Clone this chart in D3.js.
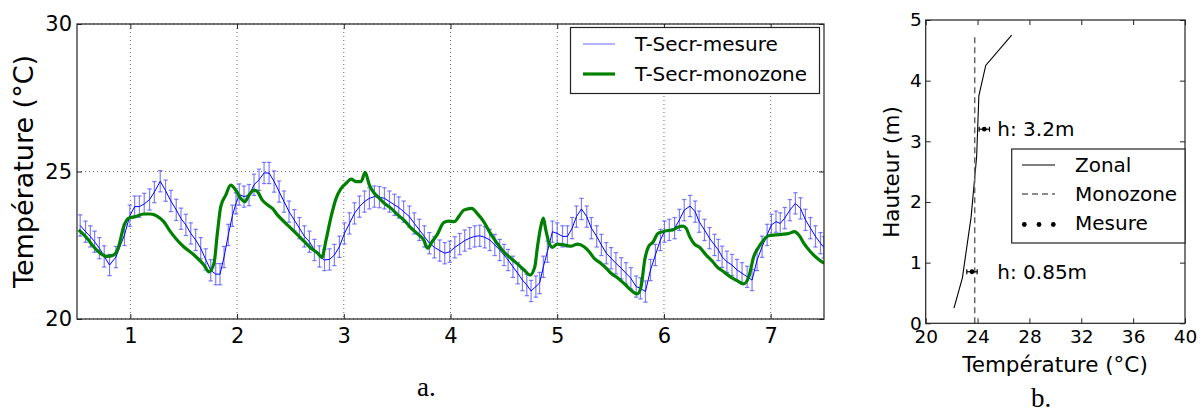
<!DOCTYPE html>
<html><head><meta charset="utf-8">
<script src="https://cdn.jsdelivr.net/npm/d3@7"></script>
<style>
body{margin:0;background:#fff}
svg{display:block}
text{fill:#000}
</style></head><body>
<svg id="c" width="1204" height="412" font-family="DejaVu Sans, sans-serif"></svg>
<script>
// ---- Panel a: time series ----
const xTicksA = [1,2,3,4,5,6,7];
const yTicksA = [20,25,30];
const mesureTime = [0.53,0.58,0.625,0.665,0.71,0.755,0.805,0.865,0.945,0.995,1.04,1.085,1.13,1.18,1.225,1.28,1.33,1.38,1.43,1.475,
1.52,1.566,1.612,1.659,1.706,1.753,1.8,1.84,1.878,1.918,1.956,1.99,2.02,2.065,2.112,2.159,2.206,2.253,2.3,2.347,2.394,2.44,2.487,
2.537,2.584,2.631,2.678,2.725,2.772,2.819,2.866,2.912,2.959,3.006,3.053,3.1,3.147,3.194,3.24,3.287,3.334,3.381,3.428,3.475,
3.515,3.561,3.615,3.661,3.708,3.755,3.802,3.849,3.899,3.946,3.993,4.04,4.086,4.133,4.18,4.227,4.274,4.321,4.368,4.415,4.461,
4.502,4.54,4.585,4.63,4.674,4.715,4.755,4.8,4.835,4.87,4.908,4.955,5.0,5.05,5.096,5.14,5.18,5.227,5.277,5.32,5.37,5.414,5.46,
5.505,5.55,5.6,5.645,5.69,5.74,5.78,5.827,5.874,5.92,5.967,6.005,6.05,6.1,6.145,6.19,6.245,6.293,6.33,6.38,6.427,6.474,6.51,
6.545,6.59,6.638,6.685,6.732,6.78,6.826,6.873,6.92,6.967,7.007,7.05,7.09,7.132,7.18,7.232,7.28,7.326,7.373,7.42,7.467,7.498];
const mesureVal = [23.17,22.96,22.8,22.62,22.4,22.12,21.83,22.1,22.85,23.5,23.81,23.81,23.9,24.05,24.3,24.67,24.35,24.0,23.7,23.4,
23.19,22.9,22.68,22.4,22.02,21.65,21.52,21.52,22.1,22.85,23.5,23.92,24.22,24.15,24.2,24.55,24.72,24.95,24.95,24.66,24.32,23.98,23.64,
23.35,23.08,22.8,22.62,22.34,22.12,22.0,22.02,22.17,22.45,22.9,23.24,23.58,23.81,23.98,24.09,24.15,24.13,24.09,23.98,23.87,
23.78,23.64,23.47,23.24,23.02,22.8,22.57,22.43,22.32,22.23,22.28,22.43,22.54,22.66,22.74,22.8,22.82,22.77,22.68,22.51,22.34,
22.17,22.0,21.77,21.55,21.32,21.15,20.95,21.1,21.22,21.77,22.28,22.96,22.9,22.8,22.8,23.08,23.47,23.73,23.47,23.08,22.8,22.51,22.23,
22.06,21.89,21.72,21.55,21.38,21.1,21.04,20.93,21.66,22.17,22.68,22.96,23.02,23.08,23.36,23.69,23.83,23.64,23.3,23.02,22.74,22.51,22.34,
22.11,21.94,21.83,21.66,21.55,21.43,21.32,22.0,22.45,22.85,23.19,23.3,23.24,23.42,23.69,23.92,23.75,23.36,23.08,22.8,22.57,22.43];
const mesureErr = 0.36;
const monoTime = [0.516,0.594,0.656,0.719,0.781,0.844,0.89,0.9375,0.984,1.047,1.125,1.1875,1.25,1.3125,1.375,1.4375,1.5,
1.597,1.69,1.737,1.784,1.815,1.847,1.894,1.94,1.987,2.034,2.072,2.112,2.159,2.19,2.237,2.284,2.331,2.378,2.44,2.503,
2.568,2.631,2.693,2.756,2.794,2.834,2.881,2.928,2.975,3.022,3.069,3.115,3.162,3.2,3.24,3.287,3.334,3.381,3.443,3.506,
3.561,3.624,3.686,3.749,3.786,3.827,3.874,3.936,3.983,4.036,4.077,4.124,4.2,4.249,4.311,4.374,4.436,4.499,
4.565,4.627,4.69,4.746,4.79,4.815,4.846,4.87,4.893,4.924,4.955,5.0,5.065,5.127,5.19,5.252,5.3,5.346,5.408,5.47,
5.505,5.57,5.63,5.69,5.75,5.786,5.82,5.855,5.9,5.943,5.99,6.036,6.083,6.13,6.177,6.208,6.24,6.286,6.333,6.395,6.458,
6.498,6.56,6.623,6.685,6.748,6.795,6.842,6.89,6.935,6.982,7.045,7.107,7.17,7.223,7.264,7.31,7.373,7.436,7.5];
const monoVal = [23.02,22.74,22.45,22.23,22.12,22.17,22.45,23.13,23.42,23.47,23.56,23.56,23.49,23.3,22.96,22.68,22.45,
22.17,21.83,21.6,21.89,22.9,23.81,24.2,24.54,24.37,24.09,23.98,24.2,24.37,24.32,24.03,23.87,23.75,23.53,23.3,23.08,
22.85,22.62,22.4,22.23,22.09,22.68,23.47,24.09,24.43,24.6,24.74,24.66,24.66,24.97,24.54,24.26,24.09,23.92,23.75,23.53,
23.36,23.11,22.9,22.68,22.4,22.62,22.85,23.27,23.32,23.3,23.47,23.69,23.75,23.58,23.3,22.9,22.57,22.28,
22.06,21.87,21.66,21.49,21.77,22.45,23.13,23.42,23.02,22.57,22.43,22.54,22.51,22.47,22.54,22.45,22.28,22.06,21.89,21.68,
21.55,21.38,21.19,20.98,20.85,21.1,22.0,22.45,22.62,22.9,22.96,23.0,23.02,23.11,23.15,23.08,22.8,22.54,22.43,22.17,21.94,
21.77,21.6,21.43,21.3,21.19,21.43,22.12,22.45,22.68,22.82,22.85,22.87,22.9,22.96,22.85,22.57,22.28,22.06,21.89];
const legendA = ["T-Secr-mesure","T-Secr-monozone"];

// ---- Panel b: vertical profile ----
const xTicksB = [20,24,28,32,36,40];
const yTicksB = [0,1,2,3,4,5];
const zonalH = [0.25,0.75,1.75,2.75,3.75,4.25,4.75];
const zonalT = [22.18,22.83,23.5,23.93,24.1,24.63,26.63];
const monozoneH = [0,4.75];
const monozoneT = [23.78,23.78];
const measH = [3.2,0.85];
const measT = [24.52,23.57];
const measErr = 0.4;
const measLabels = ["h: 3.2m","h: 0.85m"];
const legendB = ["Zonal","Monozone","Mesure"];

const svg = d3.select("#c");
const spine = "#222";
const ebColor = "rgba(60,60,255,0.65)";

// ===== Panel a =====
const xA = d3.scaleLinear().domain([0.5,7.5]).range([77,824]);
const yA = d3.scaleLinear().domain([20,30]).range([319,24]);
const gA = svg.append("g");
gA.append("clipPath").attr("id","clipA").append("rect")
  .attr("x",77).attr("y",24).attr("width",747).attr("height",295);
gA.selectAll("line.gx").data(xTicksA).join("line")
  .attr("x1",d=>xA(d)).attr("x2",d=>xA(d)).attr("y1",yA(30)).attr("y2",yA(20))
  .attr("stroke","#444").attr("stroke-width",0.8).attr("stroke-dasharray","1,3");
gA.selectAll("line.gy").data(yTicksA).join("line")
  .attr("y1",d=>yA(d)).attr("y2",d=>yA(d)).attr("x1",xA(0.5)).attr("x2",xA(7.5))
  .attr("stroke","#444").attr("stroke-width",0.8).attr("stroke-dasharray","1,3");

const plotA = gA.append("g").attr("clip-path","url(#clipA)");
const pts = mesureTime.map((t,i)=>({t, v:mesureVal[i]}));
const eb = plotA.append("g").attr("stroke",ebColor).attr("stroke-width",1.2);
eb.selectAll("line.v").data(pts).join("line")
  .attr("x1",d=>xA(d.t)).attr("x2",d=>xA(d.t))
  .attr("y1",d=>yA(d.v-mesureErr)).attr("y2",d=>yA(d.v+mesureErr));
eb.selectAll("line.c1").data(pts).join("line")
  .attr("x1",d=>xA(d.t)-2.2).attr("x2",d=>xA(d.t)+2.2)
  .attr("y1",d=>yA(d.v+mesureErr)).attr("y2",d=>yA(d.v+mesureErr));
eb.selectAll("line.c2").data(pts).join("line")
  .attr("x1",d=>xA(d.t)-2.2).attr("x2",d=>xA(d.t)+2.2)
  .attr("y1",d=>yA(d.v-mesureErr)).attr("y2",d=>yA(d.v-mesureErr));
plotA.append("path").datum(pts)
  .attr("d",d3.line().x(d=>xA(d.t)).y(d=>yA(d.v)))
  .attr("fill","none").attr("stroke","#0000ff").attr("stroke-width",1);
const mono = monoTime.map((t,i)=>({t, v:monoVal[i]}));
plotA.append("path").datum(mono)
  .attr("d",d3.line().x(d=>xA(d.t)).y(d=>yA(d.v)).curve(d3.curveMonotoneX))
  .attr("fill","none").attr("stroke","#008000").attr("stroke-width",3.2)
  .attr("stroke-linejoin","round");

function styleAxis(g, fs){
  g.select(".domain").remove();
  g.attr("font-family","DejaVu Sans, sans-serif");
  g.selectAll(".tick line").attr("stroke",spine);
  g.selectAll(".tick text").attr("font-size",fs).attr("fill","#000");
}
gA.append("g").attr("transform","translate(0,319)")
  .call(d3.axisBottom(xA).tickValues(xTicksA).tickSize(-5).tickPadding(9).tickFormat(d3.format("d")))
  .call(g=>styleAxis(g,"21px"));
gA.append("g").attr("transform","translate(0,24)")
  .call(d3.axisTop(xA).tickValues(xTicksA).tickSize(-5).tickFormat(""))
  .call(g=>styleAxis(g,"21px"));
gA.append("g").attr("transform","translate(77,0)")
  .call(d3.axisLeft(yA).tickValues(yTicksA).tickSize(-5).tickPadding(5).tickFormat(d3.format("d")))
  .call(g=>styleAxis(g,"21px"));
gA.append("g").attr("transform","translate(824,0)")
  .call(d3.axisRight(yA).tickValues(yTicksA).tickSize(-5).tickFormat(""))
  .call(g=>styleAxis(g,"21px"));
gA.append("rect").attr("x",77).attr("y",24).attr("width",747).attr("height",295)
  .attr("fill","none").attr("stroke",spine).attr("stroke-width",1.2);
gA.append("text").attr("transform","translate(33,171.5) rotate(-90)")
  .attr("text-anchor","middle").attr("font-size","27px").text("Température (°C)");
const lgA = gA.append("g");
lgA.append("rect").attr("x",570.5).attr("y",27.5).attr("width",249).attr("height",66)
  .attr("fill","#fff").attr("stroke",spine).attr("stroke-width",1.2);
const lgAy = [44,74];
lgA.append("line").attr("x1",583).attr("x2",615).attr("y1",lgAy[0]).attr("y2",lgAy[0])
  .attr("stroke",ebColor).attr("stroke-width",1.2);
lgA.append("line").attr("x1",583).attr("x2",615).attr("y1",lgAy[1]).attr("y2",lgAy[1])
  .attr("stroke","#008000").attr("stroke-width",3.2);
lgA.selectAll("text").data(legendA).join("text")
  .attr("x",635).attr("y",(d,i)=>lgAy[i]).attr("dy","0.36em").attr("font-size","20px").text(d=>d);
svg.append("text").attr("x",417).attr("y",396)
  .style("font-family","'Liberation Serif', 'DejaVu Serif', serif")
  .attr("font-size","27px").text("a.");

// ===== Panel b =====
const xB = d3.scaleLinear().domain([20,40]).range([925.7,1185]);
const yB = d3.scaleLinear().domain([0,5]).range([323.3,20]);
const gB = svg.append("g");
gB.append("g").attr("transform","translate(0,323.3)")
  .call(d3.axisBottom(xB).tickValues(xTicksB).tickSize(-5).tickPadding(7).tickFormat(d3.format("d")))
  .call(g=>styleAxis(g,"18.5px"));
gB.append("g").attr("transform","translate(0,20)")
  .call(d3.axisTop(xB).tickValues(xTicksB).tickSize(-5).tickFormat(""))
  .call(g=>styleAxis(g,"18.5px"));
gB.append("g").attr("transform","translate(925.7,0)")
  .call(d3.axisLeft(yB).tickValues(yTicksB).tickSize(-5).tickPadding(4).tickFormat(d3.format("d")))
  .call(g=>styleAxis(g,"18.5px"));
gB.append("g").attr("transform","translate(1185,0)")
  .call(d3.axisRight(yB).tickValues(yTicksB).tickSize(-5).tickFormat(""))
  .call(g=>styleAxis(g,"18.5px"));

const zon = zonalH.map((h,i)=>({h, t:zonalT[i]}));
gB.append("path").datum(zon)
  .attr("d",d3.line().x(d=>xB(d.t)).y(d=>yB(d.h)))
  .attr("fill","none").attr("stroke","#000").attr("stroke-width",1.1);
const mz = monozoneH.map((h,i)=>({h, t:monozoneT[i]}));
gB.append("path").datum(mz)
  .attr("d",d3.line().x(d=>xB(d.t)).y(d=>yB(d.h)))
  .attr("fill","none").attr("stroke","#666").attr("stroke-width",1.5).attr("stroke-dasharray","6,4");
const ms = measH.map((h,i)=>({h, t:measT[i]}));
const mg = gB.append("g").attr("stroke","#000").attr("stroke-width",1.2);
mg.selectAll("line.e").data(ms).join("line")
  .attr("x1",d=>xB(d.t-measErr)).attr("x2",d=>xB(d.t+measErr)).attr("y1",d=>yB(d.h)).attr("y2",d=>yB(d.h));
mg.selectAll("line.l").data(ms).join("line")
  .attr("x1",d=>xB(d.t-measErr)).attr("x2",d=>xB(d.t-measErr)).attr("y1",d=>yB(d.h)-2.5).attr("y2",d=>yB(d.h)+2.5);
mg.selectAll("line.r").data(ms).join("line")
  .attr("x1",d=>xB(d.t+measErr)).attr("x2",d=>xB(d.t+measErr)).attr("y1",d=>yB(d.h)-2.5).attr("y2",d=>yB(d.h)+2.5);
gB.selectAll("circle.m").data(ms).join("circle")
  .attr("cx",d=>xB(d.t)).attr("cy",d=>yB(d.h)).attr("r",2.4).attr("fill","#000");
gB.selectAll("text.ml").data(ms).join("text")
  .attr("x",997.3).attr("y",d=>yB(d.h)).attr("dy","0.36em").attr("font-size","20px").text((d,i)=>measLabels[i]);

gB.append("rect").attr("x",925.7).attr("y",20).attr("width",1185-925.7).attr("height",303.3)
  .attr("fill","none").attr("stroke",spine).attr("stroke-width",1.2);
const lgB = gB.append("g");
lgB.append("rect").attr("x",1011.7).attr("y",149).attr("width",1185-1011.7).attr("height",94)
  .attr("fill","#fff").attr("stroke",spine).attr("stroke-width",1.2);
const lgBy = [165,194,223];
lgB.append("line").attr("x1",1022).attr("x2",1055).attr("y1",lgBy[0]).attr("y2",lgBy[0])
  .attr("stroke","#000").attr("stroke-width",1.1);
lgB.append("line").attr("x1",1022).attr("x2",1055).attr("y1",lgBy[1]).attr("y2",lgBy[1])
  .attr("stroke","#666").attr("stroke-width",1.5).attr("stroke-dasharray","6,4");
lgB.selectAll("circle").data([1024.3,1039,1053.3]).join("circle")
  .attr("cx",d=>d).attr("cy",lgBy[2]+1.5).attr("r",2.4).attr("fill","#000");
lgB.selectAll("text").data(legendB).join("text")
  .attr("x",1075).attr("y",(d,i)=>lgBy[i]).attr("dy","0.36em").attr("font-size","20px").text(d=>d);

gB.append("text").attr("transform","translate(899,172) rotate(-90)")
  .attr("text-anchor","middle").attr("font-size","21.5px").text("Hauteur (m)");
gB.append("text").attr("x",1055).attr("y",372).attr("text-anchor","middle")
  .attr("font-size","21.5px").text("Température (°C)");
svg.append("text").attr("x",1031).attr("y",407)
  .style("font-family","'Liberation Serif', 'DejaVu Serif', serif")
  .attr("font-size","27px").text("b.");
</script>
</body></html>
